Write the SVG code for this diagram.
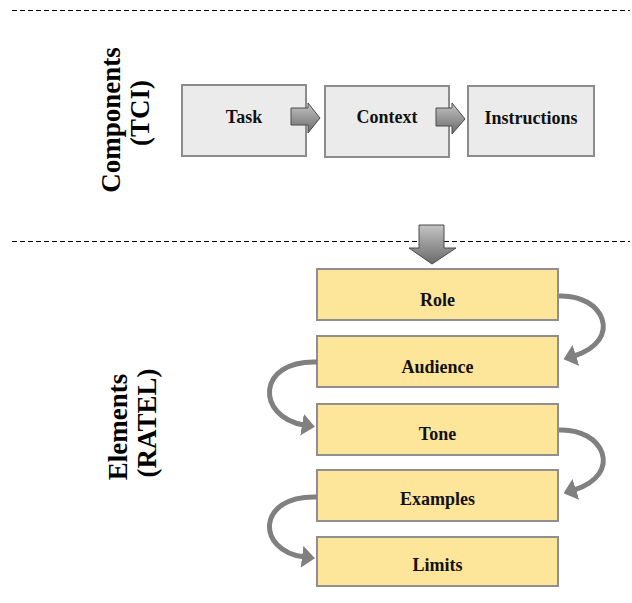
<svg xmlns="http://www.w3.org/2000/svg" width="632" height="603" viewBox="0 0 632 603">
  <style>
    .sep { stroke: #000; stroke-width: 1; stroke-dasharray: 5 3; fill: none; }
    .comp rect { fill: #ebebeb; stroke: #8c8c8c; stroke-width: 2; }
    .elem rect { fill: #fde699; stroke: #8f8f8f; stroke-width: 2; }
    .lbl { font-family: "Liberation Serif", "Times New Roman", serif; font-weight: bold; font-size: 18px; fill: #111; text-anchor: middle; }
    .side { font-family: "Liberation Serif", "Times New Roman", serif; font-weight: bold; font-size: 27px; fill: #000; text-anchor: middle; }
    .block { stroke: #4a4a4a; stroke-width: 1; }
    .curve { fill: none; stroke: #808080; stroke-width: 5; marker-end: url(#head); }
  </style>
  <defs>
    <linearGradient id="gv" x1="0" y1="0" x2="0" y2="1">
      <stop offset="0" stop-color="#c4c4c4"/>
      <stop offset="1" stop-color="#6a6a6a"/>
    </linearGradient>
    <marker id="head" viewBox="0 0 13 22" refX="2" refY="11" markerWidth="13" markerHeight="22" markerUnits="userSpaceOnUse" orient="auto">
      <path d="M0,0 L13,11 L0,22 z" fill="#808080"/>
    </marker>
  </defs>

  <!-- section separators -->
  <line class="sep" x1="12" y1="10.5" x2="630" y2="10.5"/>
  <line class="sep" x1="12" y1="241.5" x2="630" y2="241.5"/>

  <!-- side captions -->
  <text class="side" transform="translate(120 120) rotate(-90)">Components</text>
  <text class="side" transform="translate(149 113) rotate(-90)">(TCI)</text>
  <text class="side" transform="translate(127 427) rotate(-90)">Elements</text>
  <text class="side" transform="translate(156 423) rotate(-90)">(RATEL)</text>

  <!-- components row -->
  <g id="task" class="comp">
    <rect x="182" y="85" width="124" height="71"/>
    <text class="lbl" x="244" y="123">Task</text>
  </g>
  <g id="context" class="comp">
    <rect x="325" y="86" width="124" height="71"/>
    <text class="lbl" x="387" y="123">Context</text>
  </g>
  <g id="instructions" class="comp">
    <rect x="468" y="86" width="126" height="70"/>
    <text class="lbl" x="531" y="124">Instructions</text>
  </g>

  <!-- elements column -->
  <g id="role" class="elem">
    <rect x="317" y="269" width="241" height="51"/>
    <text class="lbl" x="437.5" y="306">Role</text>
  </g>
  <g id="audience" class="elem">
    <rect x="317" y="336" width="241" height="51"/>
    <text class="lbl" x="437.5" y="373">Audience</text>
  </g>
  <g id="tone" class="elem">
    <rect x="317" y="404" width="241" height="51"/>
    <text class="lbl" x="437.5" y="440">Tone</text>
  </g>
  <g id="examples" class="elem">
    <rect x="317" y="470" width="241" height="51"/>
    <text class="lbl" x="437.5" y="505">Examples</text>
  </g>
  <g id="limits" class="elem">
    <rect x="317" y="537" width="241" height="49"/>
    <text class="lbl" x="437.5" y="571">Limits</text>
  </g>

  <!-- connectors -->
  <g id="connectors">
    <polygon class="block" fill="url(#gv)" points="291,108 308,108 308,103 320,118 308,133 308,125 291,125"/>
    <polygon class="block" fill="url(#gv)" points="436,108 452,108 452,103 465,119 452,134 452,126 436,126"/>
    <polygon class="block" fill="url(#gv)" points="419,225 444,225 444,248 456,248 432,264 409,248 419,248"/>
    <path class="curve" d="M559 296 C604 294 624 340 574 356"/>
    <path class="curve" d="M317 362 C256 360 256 417 304 425"/>
    <path class="curve" d="M559 430 C604 428 624 474 574 490"/>
    <path class="curve" d="M317 497 C256 495 256 551 304 557"/>
  </g>
</svg>
